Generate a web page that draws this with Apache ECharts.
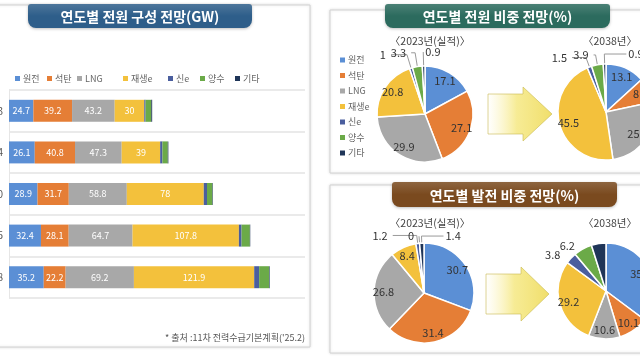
<!DOCTYPE html>
<html><head><meta charset="utf-8">
<script src="https://cdn.jsdelivr.net/npm/echarts@6/dist/echarts.min.js"></script>
<style>html,body{margin:0;padding:0;background:#fff}#c{width:640px;height:360px}</style>
</head><body><div id="c"></div>
<script>
const FONT = '"Noto Sans CJK KR", "Noto Sans", sans-serif';

// ---- data ----
const sources = ['원전', '석탄', 'LNG', '재생e', '신e', '양수', '기타'];
const years = ['2023', '2024', '2030', '2035', '2038'];
const nuclear = [24.7, 26.1, 28.9, 32.4, 35.2];
const coal = [39.2, 40.8, 31.7, 28.1, 22.2];
const lng = [43.2, 47.3, 58.8, 64.7, 69.2];
const renew = [30, 39, 78, 107.8, 121.9];
const newEnergy = [1.3, 2.3, 3.3, 2.7, 5.0];
const pumped = [5.8, 5.4, 5.4, 8.4, 10.1];
const others = [0.9, 0.6, 0.5, 0.4, 0.6];

const capShare2023 = [17.1, 27.1, 29.9, 20.8, 1, 3.3, 0.9];
const capShare2038 = [13.1, 8.3, 25.8, 45.5, 1.5, 3.9, 0.9];
const genShare2023 = [30.7, 31.4, 26.8, 8.4, 1.2, 0, 1.4];
const genShare2038 = [35.2, 10.1, 10.6, 29.2, 3.8, 6.2, 4.9];

const titleCap = '연도별 전원 구성 전망(GW)';
const titleCapShare = '연도별 전원 비중 전망(%)';
const titleGenShare = '연도별 발전 비중 전망(%)';
const subActual = '〈2023년(실적)〉';
const subFuture = '〈2038년〉';
const sourceNote = "* 출처 :11차 전력수급기본계획('25.2)";

// ---- styles ----
const colors = ['#5B8FD5', '#E57E36', '#A8A8A8', '#F3C13C', '#4A5E9E', '#6BAA48', '#1F3558'];
const capacity = [nuclear, coal, lng, renew, newEnergy, pumped, others];

const chart = echarts.init(document.getElementById('c'), null, {renderer: 'canvas', width: 640, height: 360});

const barSeries = sources.map((name, i) => ({
  name, type: 'bar', stack: 'cap', barWidth: 22, data: capacity[i],
  itemStyle: {color: colors[i]},
  label: {show: i < 4, color: '#fff', fontSize: 9, fontFamily: FONT},
  silent: true
}));

// small-slice label layout: index -> [length, length2, side, showLine]
function makePie(vals, center, r, small, hideIdx) {
  const data = vals.map((v, i) => {
    const d = {name: sources[i], value: v, itemStyle: {color: colors[i]}};
    if (small[i]) {
      d.label = {show: true, position: 'outside'};
      d.labelLine = {show: small[i][3] !== false, length: small[i][0], length2: small[i][1]};
    } else {
      d.label = {show: false};
      d.labelLine = {show: false};
    }
    return d;
  });
  const ring = vals.map((v, i) => ({
    name: sources[i], value: v,
    itemStyle: {color: 'rgba(0,0,0,0)', borderWidth: 0},
    label: {show: !small[i] && hideIdx.indexOf(i) < 0}
  }));
  const main = {
    type: 'pie', center, radius: [0, r], startAngle: 90, clockwise: true,
    avoidLabelOverlap: false, silent: true, data,
    itemStyle: {borderColor: '#fff', borderWidth: 1.5},
    label: {fontSize: 11, color: '#333', fontFamily: FONT, formatter: '{c}'},
    labelLine: {lineStyle: {color: '#9a9a9a', width: 1}, smooth: false},
    labelLayout: function (p) {
      const cfg = small[p.dataIndex];
      if (!cfg || cfg[2] !== 'right' || !p.labelLinePoints) return {};
      const pts = p.labelLinePoints;
      const nx = pts[1][0] + cfg[1];
      return {
        x: nx + 2, y: pts[1][1], align: 'left', verticalAlign: 'middle',
        labelLinePoints: [pts[0], pts[1], [nx, pts[1][1]]]
      };
    },
    z: 3
  };
  const lab = {
    type: 'pie', center, radius: [r * 0.5, r], startAngle: 90, clockwise: true,
    avoidLabelOverlap: false, silent: true, data: ring,
    label: {position: 'inside', fontSize: 11, color: '#333', fontFamily: FONT, formatter: '{c}'},
    labelLine: {show: false},
    z: 4
  };
  return [main, lab];
}

const pies = [].concat(
  makePie(capShare2023, [425, 114], 48, {4: [14, 16], 5: [14, 4], 6: [14, 0, 'right']}, []),
  makePie(capShare2038, [606, 112], 48, {4: [10, 14], 5: [10, 2], 6: [10, 22, 'right']}, []),
  makePie(genShare2023, [424, 293], 50, {4: [8, 24], 5: [7, 0], 6: [7, 22, 'right']}, []),
  makePie(genShare2038, [606, 291], 48, {4: [5, 2, null, false], 5: [4, 1, null, false]}, [6])
);

function banner(x, y, w, h, fill, text) {
  return [
    {type: 'rect', shape: {x, y, width: w, height: h, r: [3, 3, 8, 8]},
      style: {fill: new echarts.graphic.LinearGradient(0, 0, 0, 1, [
        {offset: 0, color: echarts.color.lift(fill, 0.15)}, {offset: 0.5, color: fill}, {offset: 1, color: fill}]),
        shadowBlur: 3, shadowColor: 'rgba(0,0,0,0.25)', shadowOffsetY: 1}, z: 10},
    {type: 'text', x: x + w / 2, y: y + h / 2 + 1, z: 11,
      style: {text, fill: '#fff', font: 'bold 14px ' + FONT, align: 'center', verticalAlign: 'middle'}}
  ];
}
function arrow(x0, xb, xt, cy, hb, hh) {
  return {type: 'polygon', z: 1,
    shape: {points: [[x0, cy - hb], [xb, cy - hb], [xb, cy - hh], [xt, cy], [xb, cy + hh], [xb, cy + hb], [x0, cy + hb]]},
    style: {fill: new echarts.graphic.LinearGradient(0, 0, 1, 0, [
      {offset: 0, color: 'rgba(250,240,170,0)'}, {offset: 0.45, color: 'rgba(245,232,130,0.85)'}, {offset: 1, color: '#F0DE6A'}]),
      stroke: 'rgba(200,185,80,0.6)', lineWidth: 1}};
}
function panel(x, y, w, h) {
  return {type: 'rect', z: 0, shape: {x, y, width: w, height: h},
    style: {fill: '#fff', stroke: '#d2d2d2', lineWidth: 1, shadowBlur: 3, shadowColor: 'rgba(0,0,0,0.12)'}};
}
function txt(x, y, text, size, color, align) {
  return {type: 'text', x, y, z: 5, style: {text, fill: color, font: size + 'px ' + FONT, align: align || 'center', verticalAlign: 'middle'}};
}

const legendX = [10, 42, 72, 118, 163, 195, 230];
const barLegends = sources.map((s, i) => ({
  data: [s], left: legendX[i], top: 69, itemWidth: 5, itemHeight: 5, icon: 'rect',
  selectedMode: false, itemGap: 4,
  textStyle: {fontSize: 9, color: '#666', fontFamily: FONT, padding: [0, 0, 0, -2]}
}));
const pieLegend = {
  data: sources, orient: 'vertical', left: 335, top: 49, itemWidth: 5, itemHeight: 5, icon: 'rect',
  selectedMode: false, itemGap: 3.5,
  textStyle: {fontSize: 9, color: '#666', fontFamily: FONT, lineHeight: 12, padding: [0, 0, 0, -2]}
};

chart.setOption({
  animation: false,
  backgroundColor: '#fff',
  textStyle: {fontFamily: FONT},
  legend: barLegends.concat([pieLegend]),
  grid: {left: 9, top: 90, width: 296, height: 208, containLabel: false, outerBoundsMode: 'none'},
  xAxis: {type: 'value', min: 0, max: 300, show: false},
  yAxis: {type: 'category', data: years, inverse: true,
    axisLine: {show: true, lineStyle: {color: '#e6e6e6'}}, axisTick: {show: false},
    axisLabel: {margin: 6, fontSize: 10, color: '#555', fontFamily: FONT},
    splitLine: {show: true, lineStyle: {color: '#e3e3e3', width: 1.5}}},
  series: barSeries.concat(pies),
  graphic: [
    panel(-5, 5, 315, 342),
    panel(330, 10, 320, 163),
    panel(330, 185, 320, 168),
    arrow(488, 523, 552, 114, 20, 27),
    arrow(486, 521, 549, 294, 20, 27),
    txt(430, 41, subActual, 10.5, '#444'),
    txt(610, 41, subFuture, 10.5, '#444'),
    txt(430, 223, subActual, 10.5, '#444'),
    txt(610, 223, subFuture, 10.5, '#444'),
    txt(305, 338, sourceNote, 9, '#555', 'right')
  ].concat(
    banner(28, 4, 224, 24, '#2E5E8A', titleCap),
    banner(385, 4, 225, 24, '#2C6B5E', titleCapShare),
    banner(392, 182, 225, 25, '#7A4A1F', titleGenShare)
  )
});
</script></body></html>
